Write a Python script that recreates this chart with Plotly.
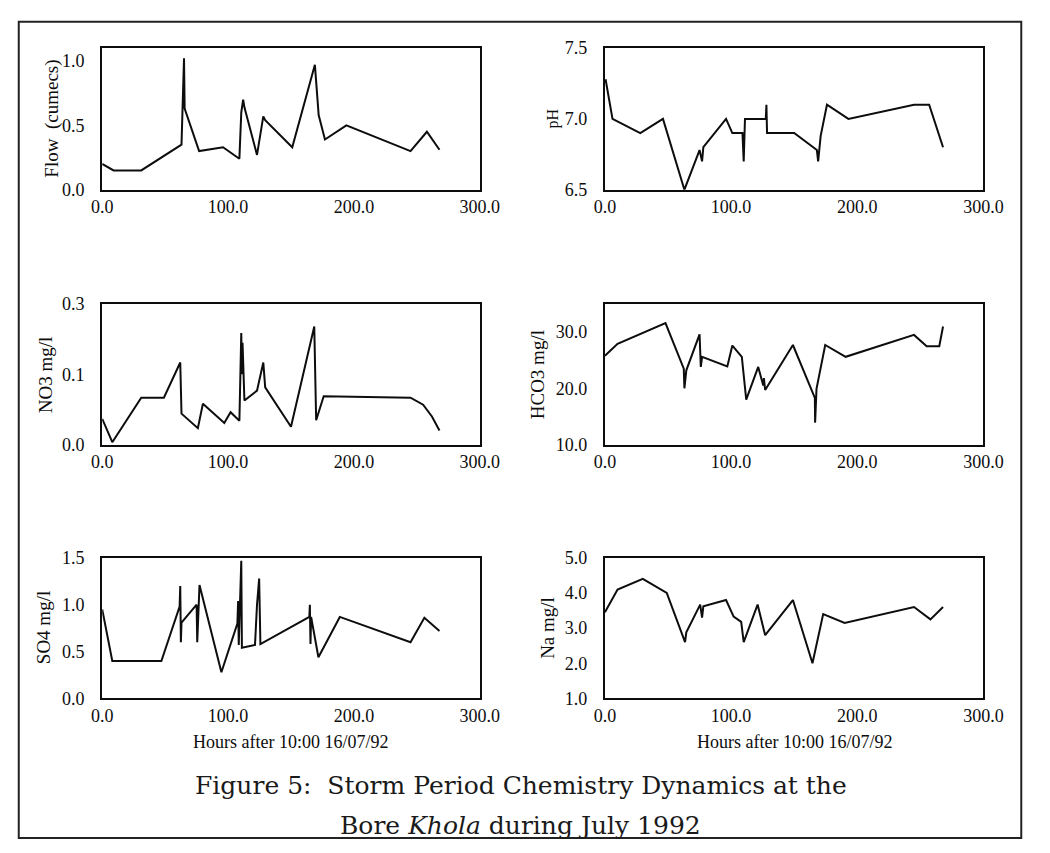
import plotly.graph_objects as go

W, H = 1050, 853

# ---------------- data (hours after 10:00 16/07/92) ----------------
flow_h = [0, 9, 31, 63, 65, 65.5, 77, 96, 109, 110.5, 112, 113, 123, 128, 129.5, 151, 169, 172, 177, 194, 245, 258, 268]
flow_v = [0.20, 0.15, 0.15, 0.35, 1.02, 0.63, 0.30, 0.33, 0.24, 0.60, 0.70, 0.64, 0.27, 0.57, 0.54, 0.33, 0.97, 0.58, 0.39, 0.50, 0.30, 0.45, 0.31]

ph_h = [0.5, 6, 28, 46, 63, 75, 77, 78, 96, 101, 109, 110, 111, 127.5, 128, 128.5, 150, 168, 169, 171, 176, 193, 245, 257, 268]
ph_v = [7.28, 7.0, 6.9, 7.0, 6.5, 6.78, 6.7, 6.8, 7.0, 6.9, 6.9, 6.7, 7.0, 7.0, 7.1, 6.9, 6.9, 6.78, 6.7, 6.88, 7.1, 7.0, 7.1, 7.1, 6.8]

no3_h = [0, 8, 31, 49, 62, 63, 76, 80, 97, 102, 109, 110.5, 111, 111.5, 113, 123, 128, 129.5, 150, 168.5, 170, 176, 245, 255, 262, 268]
no3_v = [0.055, 0.005, 0.10, 0.10, 0.175, 0.066, 0.035, 0.087, 0.046, 0.069, 0.051, 0.238, 0.15, 0.217, 0.094, 0.115, 0.175, 0.122, 0.038, 0.252, 0.052, 0.103, 0.10, 0.085, 0.06, 0.03]

hco3_h = [0, 10, 48, 62.5, 63, 64.5, 75, 76, 77, 97, 101, 108.5, 112, 121.5, 125.5, 126, 127, 149, 166.4, 166.6, 167.7, 174.6, 190.8, 245, 255, 265, 268]
hco3_v = [25.8, 27.9, 31.6, 23.5, 20.0, 23.2, 29.6, 23.8, 25.6, 23.9, 27.6, 25.6, 18.0, 23.8, 20.5, 21.8, 19.7, 27.7, 18.3, 13.9, 19.9, 27.7, 25.6, 29.5, 27.5, 27.5, 31.0]

so4_h = [0, 8, 47, 61.5, 62, 62.5, 63, 75, 75.5, 77.3, 94.7, 107.4, 108, 108.5, 110.5, 111, 121.4, 123, 124.7, 125.7, 164.6, 165, 165.5, 166, 171.8, 188.8, 245, 256, 268]
so4_v = [0.95, 0.40, 0.40, 0.98, 1.20, 0.60, 0.81, 1.00, 0.60, 1.21, 0.28, 0.80, 1.04, 0.57, 1.47, 0.54, 0.57, 1.00, 1.28, 0.58, 0.87, 1.00, 0.58, 0.87, 0.44, 0.87, 0.60, 0.86, 0.72]

na_h = [0, 10, 30, 49, 63.5, 64.5, 75.5, 77, 78, 96, 102, 108, 110, 121, 127, 149, 164.5, 173, 190, 245, 258, 268]
na_v = [3.45, 4.1, 4.4, 4.0, 2.6, 2.88, 3.67, 3.3, 3.62, 3.8, 3.33, 3.18, 2.6, 3.67, 2.8, 3.8, 2.0, 3.4, 3.15, 3.6, 3.25, 3.6]

x_ticks = [0, 100, 200, 300]
x_title = "Hours after 10:00 16/07/92"

panels = [
    # (hours, values, y-range, tickvals, ticktext, ylabel, col, row, label font size)
    (flow_h, flow_v, [0, 1.1], [0, 0.5, 1.0], ["0.0", "0.5", "1.0"], "Flow  (cumecs)", 0, 0, 19),
    (ph_h, ph_v, [6.5, 7.5], [6.5, 7.0, 7.5], ["6.5", "7.0", "7.5"], "pH", 1, 0, 16),
    (no3_h, no3_v, [0, 0.3], [0, 0.15, 0.3], ["0.0", "0.1", "0.3"], "NO3 mg/l", 0, 1, 19),
    (hco3_h, hco3_v, [10, 35], [10, 20, 30], ["10.0", "20.0", "30.0"], "HCO3 mg/l", 1, 1, 19),
    (so4_h, so4_v, [0, 1.5], [0, 0.5, 1.0, 1.5], ["0.0", "0.5", "1.0", "1.5"], "SO4 mg/l", 0, 2, 19),
    (na_h, na_v, [1, 5], [1, 2, 3, 4, 5], ["1.0", "2.0", "3.0", "4.0", "5.0"], "Na mg/l", 1, 2, 19),
]

# layout geometry in pixels
col_x = [(94, 483), (612, 1002)]
row_y = [(39, 184), (301, 445), (561, 705)]
ylabel_x = [[42, 35, 33], [558, 542, 552]]

FONT = "Liberation Serif, Times New Roman, serif"
INK = "#0d0d0d"
fig = go.Figure()
layout = dict(
    width=W, height=H,
    margin=dict(l=0, r=0, t=0, b=0),
    paper_bgcolor="white", plot_bgcolor="white",
    showlegend=False,
    font=dict(family=FONT, size=18, color=INK),
)
annotations = []

for i, (hx, vy, yr, tv, tt, lab, col, row, lfs) in enumerate(panels):
    n = "" if i == 0 else str(i + 1)
    fig.add_trace(go.Scatter(x=hx, y=vy, mode="lines",
                             line=dict(color=INK, width=2),
                             xaxis="x" + n, yaxis="y" + n, hoverinfo="skip"))
    x0, x1 = col_x[col]
    y0, y1 = row_y[row]
    layout["xaxis" + n] = dict(
        domain=[x0 / W, x1 / W], anchor="y" + n, range=[0, 300],
        tickvals=x_ticks, tickformat=".1f",
        showline=True, mirror=True, linecolor=INK, linewidth=2,
        showgrid=False, zeroline=False, ticks="",
        tickfont=dict(family=FONT, size=18, color=INK),
    )
    layout["yaxis" + n] = dict(
        domain=[1 - y1 / H, 1 - y0 / H], anchor="x" + n, range=yr,
        tickvals=tv, ticktext=tt,
        showline=True, mirror=True, linecolor=INK, linewidth=2,
        showgrid=False, zeroline=False,
        ticks="outside", ticklen=12, tickcolor="rgba(0,0,0,0)",
        tickfont=dict(family=FONT, size=18, color=INK),
    )
    annotations.append(dict(
        text=lab, xref="paper", yref="paper",
        x=ylabel_x[col][row] / W, y=1 - (y0 + y1) / 2 / H,
        textangle=-90, showarrow=False, xanchor="center", yanchor="middle",
        font=dict(family=FONT, size=lfs, color=INK),
    ))
    if row == 2:
        annotations.append(dict(
            text=x_title, xref="paper", yref="paper",
            x=(x0 + x1) / 2 / W, y=1 - 750 / H, showarrow=False,
            xanchor="center", yanchor="middle",
            font=dict(family=FONT, size=18, color=INK),
        ))

TFONT = "DejaVu Serif, serif"
annotations.append(dict(
    text="Figure 5:\u00a0 Storm Period Chemistry Dynamics at the",
    xref="paper", yref="paper", x=525 / W, y=1 - 794 / H, showarrow=False,
    xanchor="center", yanchor="middle", font=dict(family=TFONT, size=25, color="#1a1a1a")))
annotations.append(dict(
    text="Bore <i>Khola</i> during July 1992",
    xref="paper", yref="paper", x=525 / W, y=1 - 835 / H, showarrow=False,
    xanchor="center", yanchor="middle", font=dict(family=TFONT, size=25, color="#1a1a1a")))

layout["annotations"] = annotations
layout["shapes"] = [dict(type="rect", xref="paper", yref="paper",
                         x0=8 / W, x1=1041 / W, y0=1 - 848 / H, y1=1 - 12 / H,
                         line=dict(color="#222", width=2), layer="below")]

fig.update_layout(**layout)
fig.write_html("out.html")
